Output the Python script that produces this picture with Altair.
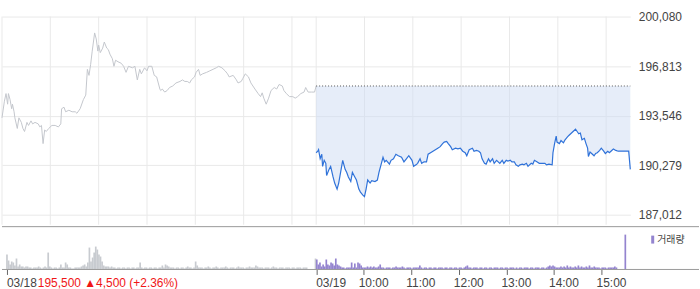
import altair as alt
import pandas as pd

# ---------------- data ----------------
prev_date = "03/18"
cur_date = "03/19"
prev_close = 195500
prev_change = 4500
prev_change_pct = 2.36
price_ticks = [187012, 190279, 193546, 196813, 200080]
hour_labels = ["10:00", "11:00", "12:00", "13:00", "14:00", "15:00"]
hour_offsets = [60, 120, 180, 240, 300, 360]   # minutes after 09:00
session_len = 390                               # 09:00-15:30
legend_label = "거래량"

# day 1 (03/18) intraday: minutes after 09:00, price
d1_min = [0, 3, 5, 7, 8, 10, 12, 13, 15, 16,
          19, 21, 24, 26, 28, 31, 33, 36, 38, 41,
          45, 47, 49, 51, 53, 55, 58, 62, 66, 70,
          73, 74, 77, 79, 83, 87, 91, 93, 97, 101,
          104, 106, 108, 110, 112, 115, 117, 119, 120, 122,
          125, 127, 130, 132, 134, 137, 139, 141, 144, 148,
          151, 154, 157, 162, 165, 168, 171, 173, 177, 180,
          182, 186, 189, 192, 196, 197, 199, 202, 205, 208,
          212, 216, 221, 224, 227, 230, 233, 235, 239, 241,
          244, 246, 249, 254, 258, 262, 266, 269, 273, 277,
          280, 282, 287, 291, 293, 297, 299, 302, 306, 309,
          314, 318, 321, 323, 325, 328, 331, 334, 338, 341,
          344, 348, 350, 353, 357, 361, 364, 367, 371, 375,
          377, 380, 384, 388, 390]
d1_price = [193400, 194500, 195000, 194300, 195000, 194600, 194000, 194300, 193800, 193400,
            192700, 193400, 193100, 192700, 192500, 193100, 192900, 193200, 193000, 193100,
            193000, 192800, 192900, 191700, 192600, 192500, 192700, 192900, 192900, 192800,
            193000, 194000, 194100, 193800, 193900, 193800, 193800, 193700, 194000, 194600,
            194900, 196600, 196200, 196900, 197800, 199000, 198600, 197800, 198200, 197700,
            198000, 198400, 198000, 197900, 197600, 197300, 196800, 197200, 197100, 197000,
            196800, 196400, 196800, 196700, 196800, 195900, 196600, 196300, 196700, 196500,
            196800, 196800, 196200, 196100, 195300, 195200, 195300, 195100, 195200, 195400,
            195500, 195700, 195800, 195900, 195800, 195800, 195700, 195900, 196100, 196400,
            196600, 196200, 196300, 196400, 196500, 196600, 196700, 196800, 196700, 196500,
            196300, 196100, 196200, 195900, 195700, 195800, 196000, 196300, 196100, 195700,
            195300, 195000, 194800, 195050, 194700, 194300, 194700, 195200, 195400, 195300,
            195600, 195500, 195200, 195000, 194800, 194800, 194700, 194800, 195000, 195100,
            195400, 195100, 195100, 195100, 195500]

# day 2 (03/19) intraday
d2_min = [0, 2, 3, 5, 7, 8, 10, 12, 13, 16,
          18, 21, 23, 26, 28, 31, 33, 36, 38, 40,
          43, 45, 48, 50, 53, 55, 58, 60, 62, 64,
          67, 69, 73, 76, 78, 81, 83, 85, 87, 91,
          93, 96, 99, 102, 106, 109, 112, 115, 119, 121,
          124, 126, 129, 131, 134, 137, 139, 142, 145, 148,
          151, 154, 157, 159, 162, 164, 167, 169, 173, 176,
          179, 182, 185, 187, 190, 194, 196, 199, 202, 204,
          206, 209, 211, 214, 216, 219, 221, 224, 228, 231,
          233, 236, 238, 241, 243, 246, 248, 251, 253, 256,
          258, 261, 263, 267, 269, 271, 274, 277, 280, 284,
          286, 289, 293, 294, 296, 298, 299, 302, 304, 307,
          309, 312, 314, 317, 319, 322, 324, 326, 328, 330,
          333, 335, 337, 338, 340, 342, 345, 347, 349, 352,
          354, 357, 359, 362, 364, 367, 369, 372, 375, 378,
          385, 388, 390]
d2_price = [191100, 191200, 191300, 190700, 191000, 190200, 190600, 190400, 189600, 190000,
            190200, 189500, 189100, 188700, 189100, 190000, 190600, 190000, 189800, 189500,
            189200, 189800, 189500, 189300, 188700, 188500, 188300, 188200, 188700, 189300,
            189100, 189250, 189200, 189300, 189800, 190400, 190800, 190500, 190600, 190350,
            190600, 190700, 191000, 190900, 190800, 190500, 190700, 190900, 190600, 190200,
            190300, 190400, 190700, 190400, 190500, 190500, 191000, 191100, 191200, 191300,
            191400, 191500, 191700, 191800, 191850, 191700, 191500, 191300, 191400, 191350,
            191400, 191200, 191100, 190900, 191300, 191400, 191200, 191250, 191200, 191100,
            190700, 190400, 190350, 190700, 190500, 190700, 190400, 190600, 190400, 190600,
            190400, 190600, 190550, 190600, 190500, 190500, 190300, 190200, 190300, 190350,
            190300, 190400, 190200, 190400, 190350, 190600, 190500, 190400, 190400, 190400,
            190300, 190350, 190300, 191100, 191700, 192200, 191800, 191700, 191900, 191750,
            191950, 192150, 192250, 192400, 192500, 192650, 192500, 192350, 192400, 191950,
            192050, 191700, 191400, 190850, 191150, 191050, 190900, 191050, 191100, 191250,
            191400, 191200, 191050, 191200, 191100, 191250, 191350, 191250, 191200, 191200,
            191200, 191200, 190000]

# volume per 2-minute bin (thousand shares), then closing-auction volume
vol_bin = 2
v1 = [15, 9, 5, 8, 7, 4, 11, 3, 5, 3,
      3, 2, 3, 3, 2, 2, 1, 2, 2, 2,
      3, 2, 1, 2, 3, 2, 17, 3, 2, 1,
      2, 2, 1, 2, 5, 2, 2, 7, 5, 2,
      2, 1, 1, 2, 2, 2, 2, 3, 4, 5,
      3, 7, 22, 8, 12, 17, 23, 20, 15, 13,
      8, 4, 3, 3, 3, 2, 3, 2, 2, 1,
      2, 2, 1, 2, 2, 1, 2, 2, 1, 2,
      2, 1, 2, 2, 7, 2, 1, 2, 2, 1,
      2, 2, 1, 2, 2, 1, 2, 2, 4, 2,
      5, 4, 3, 2, 2, 2, 1, 2, 2, 1,
      2, 2, 1, 2, 3, 2, 2, 1, 2, 8,
      4, 2, 2, 2, 1, 2, 2, 3, 2, 1,
      2, 2, 3, 2, 1, 2, 2, 2, 3, 2,
      1, 2, 2, 2, 1, 2, 3, 2, 2, 2,
      1, 2, 2, 3, 2, 2, 2, 4, 3, 2,
      2, 2, 1, 2, 2, 2, 1, 2, 3, 2,
      2, 1, 2, 2, 2, 1, 2, 2, 2, 1,
      2, 2, 1, 2, 2, 2, 1, 2, 2, 2,
      0, 0, 0, 0, 0]
v1_close = 11
v2 = [10, 5, 7, 3, 5, 3, 10, 5, 4, 7,
      6, 4, 11, 5, 4, 3, 2, 2, 1, 2,
      2, 2, 7, 2, 6, 2, 7, 6, 4, 2,
      2, 2, 3, 2, 3, 2, 3, 2, 2, 3,
      5, 2, 2, 1, 2, 2, 2, 1, 2, 2,
      3, 2, 2, 2, 3, 2, 1, 2, 2, 2,
      1, 2, 2, 2, 2, 4, 2, 1, 2, 2,
      1, 2, 2, 1, 2, 2, 1, 2, 2, 2,
      1, 2, 2, 1, 2, 2, 1, 2, 2, 1,
      2, 2, 1, 2, 3, 4, 2, 2, 1, 2,
      2, 2, 1, 2, 2, 1, 2, 2, 1, 2,
      2, 1, 2, 2, 2, 1, 2, 2, 1, 2,
      2, 1, 2, 2, 2, 1, 2, 1, 2, 2,
      1, 2, 2, 2, 1, 2, 2, 1, 2, 2,
      2, 1, 2, 2, 1, 2, 3, 4, 3, 4,
      3, 2, 2, 2, 3, 2, 3, 2, 4, 2,
      3, 2, 2, 3, 2, 4, 2, 3, 2, 2,
      3, 2, 4, 2, 2, 3, 2, 2, 2, 1,
      2, 2, 2, 1, 2, 2, 2, 2, 3, 2,
      0, 0, 0, 0, 0]
v2_close = 35

# ---------------- frames ----------------
df1 = pd.DataFrame({"t": d1_min, "price": d1_price})
df2 = pd.DataFrame({"t": [session_len + m for m in d2_min], "price": d2_price})
df2["ref"] = prev_close

vol_rows = []
for i, v in enumerate(v1):
    vol_rows.append({"t": i * vol_bin, "vol": v * 1000, "day": prev_date})
vol_rows.append({"t": session_len - 0.8, "vol": v1_close * 1000, "day": prev_date})
for j, v in enumerate(v2):
    vol_rows.append({"t": session_len + j * vol_bin + 0.8, "vol": v * 1000, "day": cur_date})
vol_rows.append({"t": 2 * session_len, "vol": v2_close * 1000, "day": cur_date})
dfv = pd.DataFrame(vol_rows)

grid_t = [0] + hour_offsets + [session_len] + [session_len + h for h in hour_offsets]

# ---------------- scales ----------------
W = 631
H_PRICE = 225
H_VOL = 43
step = price_ticks[1] - price_ticks[0]
px_step = 49.75
y_top = price_ticks[-1] + step * 16 / px_step
y_bot = price_ticks[0] - step * 10 / px_step
xs = alt.Scale(domain=[0, 2 * session_len], nice=False, zero=False)
ys = alt.Scale(domain=[y_bot, y_top], nice=False, zero=False)

FONT = "Liberation Sans, Noto Sans CJK KR, sans-serif"
GRID = "#e9e9e9"

y_axis = alt.Axis(orient="right", values=price_ticks, format=",d", grid=True,
                  gridColor=GRID, domain=False, ticks=False, labelPadding=8,
                  labelFont=FONT, labelFontSize=12, labelColor="#444", title=None)

# ---------------- price panel ----------------
dfg = pd.DataFrame({"t": grid_t})
dfg["price"] = price_ticks[-1]
dfg["bot"] = y_bot
vgrid = alt.Chart(dfg).mark_rule(color=GRID, strokeWidth=1).encode(
    x=alt.X("t:Q", scale=xs, axis=None),
    y=alt.Y("price:Q", scale=ys, axis=y_axis),
    y2="bot:Q",
)
area = alt.Chart(df2).mark_area(color="#cddcf3", opacity=0.5).encode(
    x=alt.X("t:Q", scale=xs, axis=None),
    y=alt.Y("price:Q", scale=ys, axis=y_axis),
    y2="ref:Q",
)
line1 = alt.Chart(df1).mark_line(color="#c4c7cd", strokeWidth=1).encode(
    x=alt.X("t:Q", scale=xs, axis=None),
    y=alt.Y("price:Q", scale=ys, axis=y_axis),
)
line2 = alt.Chart(df2).mark_line(color="#2f72d9", strokeWidth=1.2).encode(
    x=alt.X("t:Q", scale=xs, axis=None),
    y=alt.Y("price:Q", scale=ys, axis=y_axis),
)
dfr = pd.DataFrame({"t": [session_len], "t1": [2 * session_len], "price": [prev_close]})
refline = alt.Chart(dfr).mark_rule(color="#555", strokeWidth=1, strokeDash=[1, 2]).encode(
    x=alt.X("t:Q", scale=xs, axis=None),
    x2="t1:Q",
    y=alt.Y("price:Q", scale=ys, axis=y_axis),
)

price_panel = alt.layer(vgrid, area, line1, line2, refline).properties(
    width=W, height=H_PRICE)

# ---------------- volume panel ----------------
vs = alt.Scale(domain=[0, H_VOL * 1000], nice=False, zero=True)
tick_vals = [0, session_len] + [session_len + h for h in hour_offsets]
x_axis = alt.Axis(values=tick_vals, labels=False, ticks=True, tickSize=5,
                  tickColor="#666", domain=False, grid=False, title=None)
bars = alt.Chart(dfv).mark_bar(width=1.7).encode(
    x=alt.X("t:Q", scale=xs, axis=x_axis),
    y=alt.Y("vol:Q", scale=vs, axis=None),
    color=alt.Color("day:N", scale=alt.Scale(domain=[prev_date, cur_date],
                                             range=["#c8cbd0", "#9484cf"]), legend=None),
)
sep_top = alt.Chart(pd.DataFrame({"a": [0]})).mark_rule(color="#999").encode(
    x=alt.value(0), x2=alt.value(700), y=alt.value(0))
sep_bot = alt.Chart(pd.DataFrame({"a": [0]})).mark_rule(color="#999").encode(
    x=alt.value(0), x2=alt.value(700), y=alt.value(H_VOL))

LABEL_Y = 56.5
dfd = pd.DataFrame({"t": [0, session_len], "txt": [prev_date, cur_date]})
date_txt = alt.Chart(dfd).mark_text(align="left", baseline="middle", font=FONT,
                                    fontSize=12, color="#444").encode(
    x=alt.X("t:Q", scale=xs, axis=x_axis), y=alt.value(LABEL_Y), text="txt:N")
dfh = pd.DataFrame({"t": [session_len + h for h in hour_offsets], "txt": hour_labels})
hour_txt = alt.Chart(dfh).mark_text(align="left", baseline="middle", dx=-5, font=FONT,
                                    fontSize=12, color="#444").encode(
    x=alt.X("t:Q", scale=xs, axis=x_axis), y=alt.value(LABEL_Y), text="txt:N")
chg = f"{prev_close:,} \u25b2{prev_change:,} (+{prev_change_pct:.2f}%)"
dfc = pd.DataFrame({"t": [0], "txt": [chg]})
chg_txt = alt.Chart(dfc).mark_text(align="left", baseline="middle", dx=31, font=FONT,
                                   fontSize=12, color="#f01616").encode(
    x=alt.X("t:Q", scale=xs, axis=x_axis), y=alt.value(LABEL_Y), text="txt:N")

leg_sq = alt.Chart(pd.DataFrame({"a": [0]})).mark_rect(color="#9484cf").encode(
    x=alt.value(652), x2=alt.value(655), y=alt.value(9), y2=alt.value(17))
leg_txt = alt.Chart(pd.DataFrame({"txt": [legend_label]})).mark_text(
    align="left", baseline="middle", font=FONT, fontSize=10, color="#444").encode(
    x=alt.value(658), y=alt.value(13), text="txt:N")

vol_panel = alt.layer(bars, sep_top, sep_bot, date_txt, hour_txt, chg_txt,
                      leg_sq, leg_txt).properties(width=W, height=H_VOL)

chart = alt.vconcat(price_panel, vol_panel, spacing=0).properties(
    padding={"left": 0, "right": 0, "top": 0, "bottom": 0}
).configure_view(stroke=None)

chart.save("out.html", embed_options={"renderer": "svg", "actions": False})
